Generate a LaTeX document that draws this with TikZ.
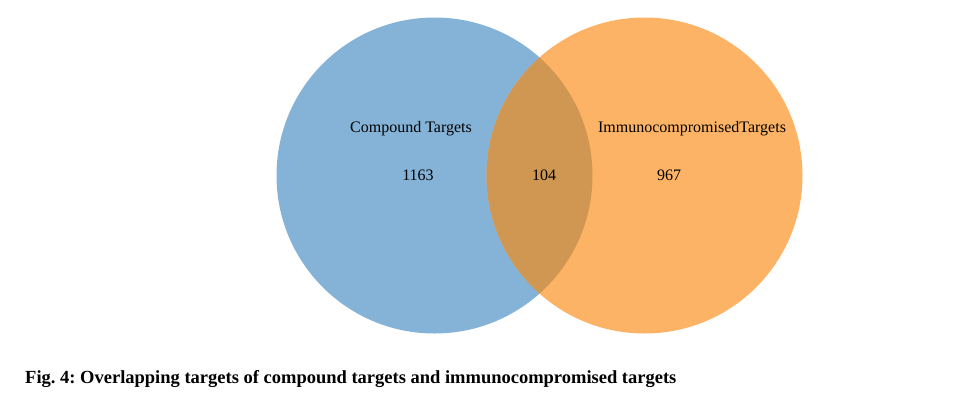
\documentclass[tikz,border=0pt]{standalone}
\usepackage{fontspec}
\setmainfont{Liberation Serif}
\frenchspacing
\definecolor{vblue}{HTML}{84B3D7}
\definecolor{vorange}{HTML}{FDB366}
\definecolor{vmix}{HTML}{CF9752}
\begin{document}
\begin{tikzpicture}[x=1pt,y=-1pt,
  lbl/.style={font=\fontsize{16}{18}\selectfont, text=black, inner sep=0pt},
  captext/.style={font=\fontsize{18.5}{20}\selectfont\bfseries, text=black, inner sep=0pt, anchor=west}]
\useasboundingbox[fill=white] (0,0) rectangle (967,397);
\fill[vblue] (434.5,175.5) circle (158);
\fill[vorange] (644.5,175.5) circle (158);
\begin{scope}
  \clip (434.5,175.5) circle (158);
  \fill[vmix] (644.5,175.5) circle (158);
\end{scope}
\node[lbl] (lA) at (411,129) {Compound Targets};
\node[lbl] (lB) at (692,129) {ImmunocompromisedTargets};
\node[lbl] (nA) at (418,175) {1163};
\node[lbl] (nAB) at (544,175) {104};
\node[lbl] (nB) at (669,175) {967};
\node[captext] (caption) at (25,379) {Fig. 4: Overlapping targets of compound targets and immunocompromised targets};
\end{tikzpicture}
\end{document}
